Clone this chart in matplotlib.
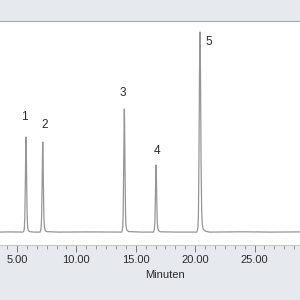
import matplotlib
matplotlib.use('Agg')
import matplotlib.pyplot as plt
from matplotlib.ticker import MultipleLocator, AutoMinorLocator, FormatStrFormatter

# chromatogram trace (minutes, detector signal)
time = [3.3, 4.5, 5.50, 5.58, 5.62, 5.66, 5.70, 5.74, 5.76, 5.78, 5.82, 5.86, 5.90, 5.95, 6.05, 6.4,
        6.95, 7.03, 7.07, 7.11, 7.15, 7.17, 7.19, 7.23, 7.27, 7.31, 7.37, 7.47, 8.5, 11.0,
        13.82, 13.90, 13.94, 13.98, 14.02, 14.04, 14.06, 14.10, 14.14, 14.18, 14.25, 14.40, 15.5,
        16.49, 16.57, 16.61, 16.65, 16.69, 16.71, 16.73, 16.77, 16.81, 16.85, 16.92, 17.05, 18.5,
        20.15, 20.24, 20.28, 20.32, 20.37, 20.41, 20.45, 20.50, 20.55, 20.60, 20.68, 20.85, 21.2,
        24.0, 26.5, 28.9]
signal = [0, 0.2, 0, 1, 4, 15, 45, 85, 95, 85, 45, 15, 5, 2, 0.5, 0,
          0, 4, 14, 42, 80, 90, 80, 42, 14, 5, 2, 0.5, 0, 0.2,
          0, 4, 18, 58, 110, 123, 110, 58, 18, 6, 2, 0.5, 0,
          0, 3, 10, 32, 60, 67, 60, 32, 10, 4, 1.5, 0.3, 0,
          0, 5, 20, 70, 160, 200, 160, 70, 22, 8, 3, 1, 0,
          0.3, 0, 0.2]

peak_labels = ['1', '2', '3', '4', '5']
label_x = [5.59, 7.30, 13.90, 16.82, 21.15]
label_y = [115, 107, 139, 81, 190]

bg = '#e6eaee'
fig = plt.figure(figsize=(3, 3), dpi=100, facecolor=bg)
ax = fig.add_axes([0, 0.183, 1, 0.747])
ax.set_facecolor('white')

ax.plot(time, signal, color='#969696', lw=0.9)

for lab, lx, ly in zip(peak_labels, label_x, label_y):
    ax.text(lx, ly, lab, ha='center', va='center', fontsize=8.5,
            family='Liberation Sans', color='#2a2a2a')

ax.set_xlim(3.57, 28.83)
ax.set_ylim(-13, 211)
ax.xaxis.set_major_locator(MultipleLocator(5))
ax.xaxis.set_minor_locator(AutoMinorLocator(6))
ax.xaxis.set_major_formatter(FormatStrFormatter('%.2f'))
ax.tick_params(axis='x', which='major', length=5, width=0.7, color='#777777',
               labelsize=8, labelcolor='#2a2a2a', pad=2)
ax.tick_params(axis='x', which='minor', length=3, width=0.6, color='#888888')
for lbl in ax.get_xticklabels():
    lbl.set_family('Liberation Sans')
ax.set_yticks([])

for s in ['left', 'right']:
    ax.spines[s].set_visible(False)
ax.spines['top'].set_color('#a4a8ac')
ax.spines['top'].set_linewidth(0.8)
ax.spines['bottom'].set_color('#c4c8cc')
ax.spines['bottom'].set_linewidth(0.8)

fig.text(165.5 / 300, 1 - 275 / 300, 'Minuten', ha='center', va='center',
         fontsize=8, family='Liberation Sans', color='#2a2a2a')

plt.savefig('out.png', dpi=100, facecolor=bg)
